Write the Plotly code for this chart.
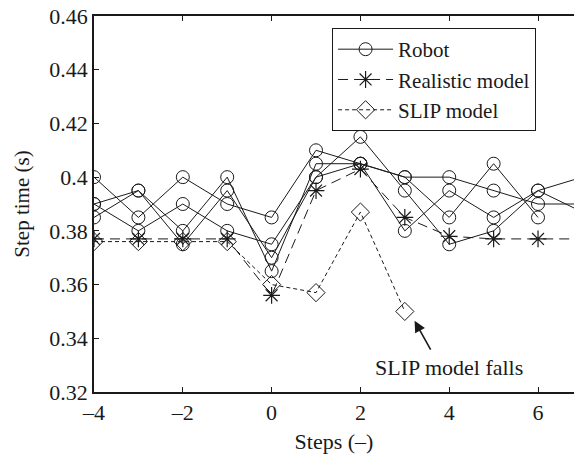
import plotly.graph_objects as go

steps = [-4, -3, -2, -1, 0, 1, 2, 3, 4, 5, 6, 7]

robot_trial_a = [0.400, 0.385, 0.400, 0.390, 0.385, 0.410, 0.405, 0.400, 0.400, 0.395, 0.390, 0.390]
robot_trial_b = [0.385, 0.395, 0.380, 0.400, 0.365, 0.405, 0.405, 0.380, 0.395, 0.385, 0.395, 0.400]
robot_trial_c = [0.390, 0.395, 0.375, 0.395, 0.370, 0.400, 0.405, 0.400, 0.385, 0.405, 0.385, None]
robot_trial_d = [0.390, 0.380, 0.390, 0.380, 0.375, 0.400, 0.415, 0.395, 0.375, 0.380, 0.395, 0.387]

realistic_model = [0.377, 0.377, 0.377, 0.377, 0.356, 0.395, 0.403, 0.385, 0.378, 0.377, 0.377, 0.377]

slip_steps = [-4, -3, -2, -1, 0, 1, 2, 3]
slip_model = [0.376, 0.376, 0.376, 0.376, 0.360, 0.357, 0.387, 0.350]

y_tick_vals = [0.32, 0.34, 0.36, 0.38, 0.40, 0.42, 0.44, 0.46]
y_tick_text = ["0.32", "0.34", "0.36", "0.38", "0.4", "0.42", "0.44", "0.46"]
x_tick_vals = [-4, -2, 0, 2, 4, 6]
x_tick_text = ["\u20134", "\u20132", "0", "2", "4", "6"]

FONT = "Liberation Serif, serif"
INK = "#1a1a1a"

fig = go.Figure()

for i, trial in enumerate([robot_trial_a, robot_trial_b, robot_trial_c, robot_trial_d]):
    fig.add_trace(go.Scatter(
        x=steps, y=trial, mode="lines+markers",
        name="Robot", legendgroup="robot", showlegend=(i == 0),
        line=dict(color=INK, width=1),
        marker=dict(symbol="circle-open", size=13, color=INK, line=dict(width=1)),
        connectgaps=False,
    ))

fig.add_trace(go.Scatter(
    x=steps, y=realistic_model, mode="lines+markers", name="Realistic model",
    line=dict(color=INK, width=1, dash="10px,6px"),
    marker=dict(symbol="asterisk-open", size=14, color=INK, line=dict(width=1.2, color=INK)),
))

fig.add_trace(go.Scatter(
    x=slip_steps, y=slip_model, mode="lines+markers", name="SLIP model",
    line=dict(color=INK, width=1, dash="4px,3px"),
    marker=dict(symbol="diamond-open", size=14, color=INK, line=dict(width=1)),
))

# arrow and label
fig.add_annotation(x=3.22, y=0.3465, ax=3.60, ay=0.3352, axref="x", ayref="y",
                   xref="x", yref="y", text="", showarrow=True,
                   arrowhead=2, arrowsize=1.4, arrowwidth=1.6, arrowcolor=INK)
fig.add_annotation(x=4.0, y=0.3292, xref="x", yref="y", text="SLIP model falls",
                   showarrow=False, font=dict(family=FONT, size=22, color=INK))

fig.update_layout(
    width=574, height=454,
    margin=dict(l=94, r=0, t=16, b=62),
    paper_bgcolor="white", plot_bgcolor="white",
    font=dict(family=FONT, size=22, color=INK),
    showlegend=True,
    legend=dict(
        x=0.496, y=0.968, xanchor="left", yanchor="top",
        bgcolor="white", bordercolor=INK, borderwidth=1,
        font=dict(family=FONT, size=21, color=INK),
        itemwidth=55, tracegroupgap=0,
    ),
    xaxis=dict(
        range=[-4, 6.81], tickvals=x_tick_vals, ticktext=x_tick_text,
        ticks="inside", ticklen=5, tickwidth=1, tickcolor=INK,
        showline=True, linecolor=INK, linewidth=1.5, mirror="ticks",
        showgrid=False, zeroline=False,
        title=dict(text="Steps (\u2013)", font=dict(family=FONT, size=22), standoff=9),
        tickfont=dict(family=FONT, size=22),
    ),
    yaxis=dict(
        range=[0.32, 0.46], tickvals=y_tick_vals, ticktext=y_tick_text,
        ticks="inside", ticklen=5, tickwidth=1, tickcolor=INK,
        showline=True, linecolor=INK, linewidth=1.5, mirror=False,
        showgrid=False, zeroline=False,
        title=dict(text="Step time (s)", font=dict(family=FONT, size=21), standoff=14),
        tickfont=dict(family=FONT, size=22),
    ),
)

fig.write_html("out.html", config={"displayModeBar": False},
               post_script="document.body.style.margin='0';")
